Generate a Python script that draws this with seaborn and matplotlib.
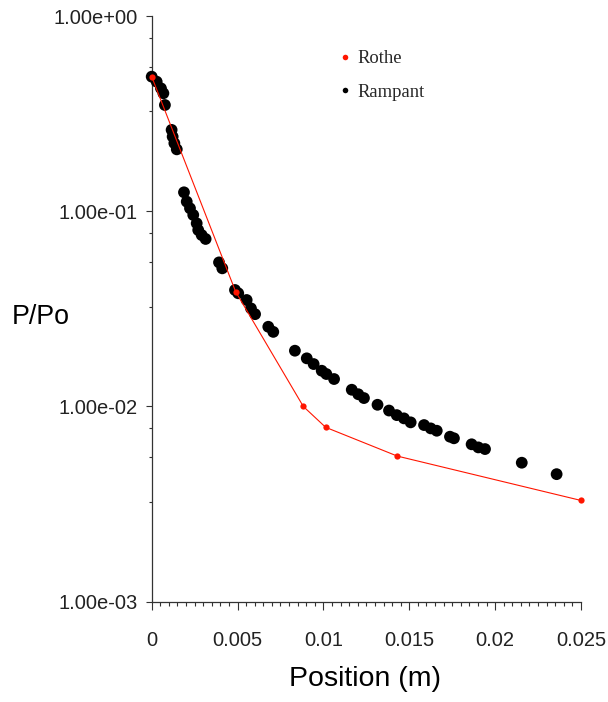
import matplotlib
matplotlib.use("Agg")
import matplotlib.pyplot as plt
import seaborn as sns
from matplotlib.lines import Line2D
from matplotlib.ticker import FixedLocator, FixedFormatter, MultipleLocator, NullFormatter

# Pressure ratio along the channel, Rampant simulation points
rampant_x = [0.0000, 0.00029, 0.00054, 0.00068, 0.00077, 0.00116, 0.00122, 0.00132,
             0.00146, 0.00188, 0.00204, 0.00223, 0.00242, 0.00262, 0.00271, 0.00291,
             0.00314, 0.00392, 0.00411, 0.00485, 0.00504, 0.00553, 0.00578, 0.00602,
             0.00679, 0.00708, 0.00834, 0.00903, 0.00943, 0.00990, 0.01017, 0.01062,
             0.01165, 0.01203, 0.01236, 0.01315, 0.01382, 0.01427, 0.01469, 0.01508,
             0.01586, 0.01625, 0.01660, 0.01737, 0.01760, 0.01863, 0.01902, 0.01941,
             0.02155, 0.02358]
rampant_y = [0.489, 0.461, 0.426, 0.402, 0.350, 0.261, 0.241, 0.223,
             0.2075, 0.125, 0.112, 0.1035, 0.0957, 0.0867, 0.0801, 0.0755,
             0.0721, 0.0547, 0.0510, 0.0395, 0.0380, 0.0351, 0.0318, 0.0297,
             0.0256, 0.0241, 0.0193, 0.01764, 0.01649, 0.01524, 0.01466, 0.01382,
             0.01218, 0.01155, 0.01104, 0.0102, 0.00953, 0.00903, 0.00869, 0.00829,
             0.00803, 0.00772, 0.00751, 0.00700, 0.00687, 0.00640, 0.00617, 0.00605,
             0.00515, 0.00450]

# Rothe reference values
rothe_x = [0.0000, 0.00489, 0.00883, 0.01013, 0.01430, 0.0250]
rothe_y = [0.489, 0.0387, 0.0100, 0.00782, 0.00557, 0.00330]

series_names = ["Rothe", "Rampant"]
x_ticks = [0, 0.005, 0.01, 0.015, 0.02, 0.025]
x_tick_labels = ["0", "0.005", "0.01", "0.015", "0.02", "0.025"]
y_ticks = [1e-3, 1e-2, 1e-1, 1e0]
y_tick_labels = ["1.00e-03", "1.00e-02", "1.00e-01", "1.00e+00"]

sns.set_style("ticks")
plt.rcParams["font.family"] = ["Liberation Sans", "DejaVu Sans"]

fig = plt.figure(figsize=(6.08, 7.02), dpi=100)
ax = fig.add_axes([0.2495, 0.1429, 0.7061, 0.8343])

red = "#ff1500"
sns.scatterplot(x=rampant_x, y=rampant_y, ax=ax, color="black", s=72,
                edgecolor="none", linewidth=0, clip_on=False, zorder=3)
sns.lineplot(x=rothe_x, y=rothe_y, ax=ax, color=red, lw=0.8, marker="o",
             markersize=4.5, markeredgewidth=0, sort=False, estimator=None,
             clip_on=False, zorder=4)

ax.set_yscale("log")
ax.set_xlim(0, 0.025)
ax.set_ylim(1e-3, 1.0)

ax.xaxis.set_major_locator(FixedLocator(x_ticks))
ax.xaxis.set_major_formatter(FixedFormatter(x_tick_labels))
ax.xaxis.set_minor_locator(MultipleLocator(0.0005))
ax.yaxis.set_major_locator(FixedLocator(y_ticks))
ax.yaxis.set_major_formatter(FixedFormatter(y_tick_labels))
# minor ticks split each decade into four equal linear steps
minor_y = [top * f for top in (1e-2, 1e-1, 1e0) for f in (0.325, 0.55, 0.775)]
ax.yaxis.set_minor_locator(FixedLocator(minor_y))
ax.yaxis.set_minor_formatter(NullFormatter())

spine_col = "#333333"
for side in ("top", "right"):
    ax.spines[side].set_visible(False)
for side in ("left", "bottom"):
    ax.spines[side].set_color(spine_col)
    ax.spines[side].set_linewidth(0.9)

ax.tick_params(axis="x", which="major", length=6, width=0.8, color=spine_col,
               pad=15, labelsize=14.5, labelcolor="#222222")
ax.tick_params(axis="x", which="minor", length=3, width=0.8, color=spine_col)
ax.tick_params(axis="y", which="major", length=4.5, width=0.8, color=spine_col,
               pad=5.5, labelsize=14.5, labelcolor="#222222")
ax.tick_params(axis="y", which="minor", length=2.5, width=0.8, color=spine_col)

ax.set_xlabel("Position (m)", fontsize=20.5, color="black", va="center")
ax.xaxis.set_label_coords(0.4957, -0.132)
ax.set_ylabel("P/Po", fontsize=19.3, color="black", rotation=0,
              ha="center", va="center")
ax.yaxis.set_label_coords(-0.258, 0.486)

handles = [Line2D([], [], marker="o", ls="none", color=red, markersize=4,
                  markeredgewidth=0),
           Line2D([], [], marker="o", ls="none", color="black", markersize=4,
                  markeredgewidth=0)]
ax.legend(handles, series_names, loc="upper left", bbox_to_anchor=(0.558, 0.9283),
          bbox_transform=fig.transFigure, frameon=False,
          prop={"family": "Liberation Serif", "size": 13.4},
          handlelength=0.6, handletextpad=0.35, labelspacing=0.87,
          borderpad=0, borderaxespad=0)

fig.savefig("out.png", dpi=100)
